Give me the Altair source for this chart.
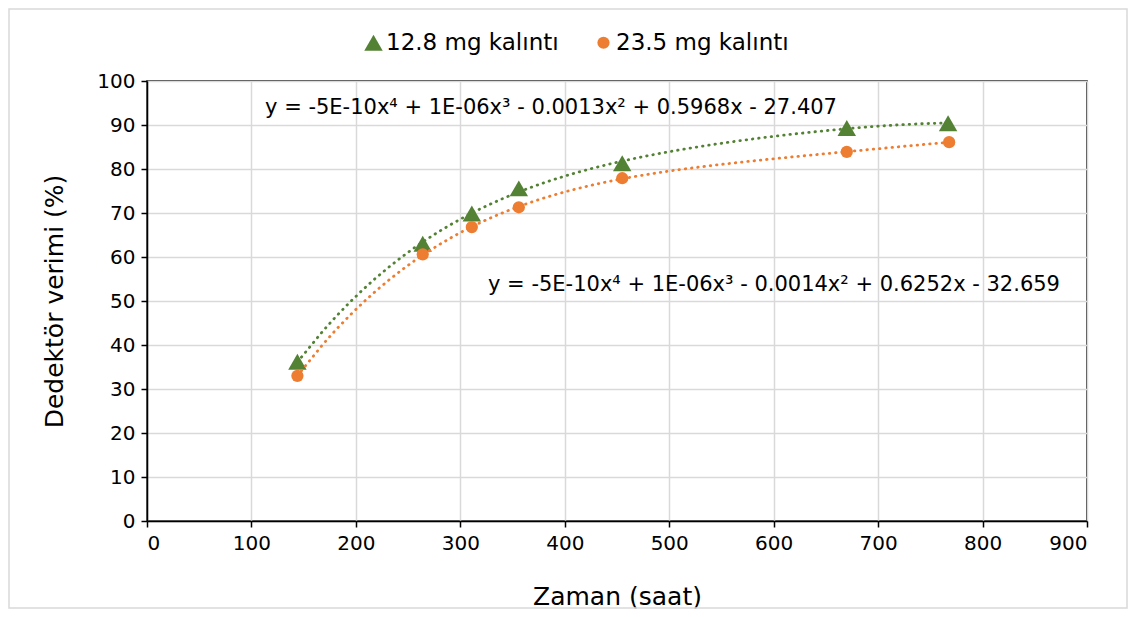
import altair as alt
import pandas as pd

# ---- data ----
series_names = ["12.8 mg kalıntı", "23.5 mg kalıntı"]
hours_128 = [144, 264, 311, 356, 455, 670, 767]
eff_128 = [36.2, 63.0, 69.9, 75.6, 81.3, 89.3, 90.4]
hours_235 = [144, 264, 311, 356, 455, 670, 768]
eff_235 = [33.0, 60.6, 66.8, 71.3, 77.9, 83.9, 86.1]
x_ticks = list(range(0, 901, 100))
y_ticks = list(range(0, 101, 10))
eq_128 = "y = -5E-10x\u2074 + 1E-06x\u00b3 - 0.0013x\u00b2 + 0.5968x  -  27.407"
eq_235 = "y = -5E-10x\u2074 + 1E-06x\u00b3 - 0.0014x\u00b2 + 0.6252x  -  32.659"

colors = ["#548235", "#ED7D31"]
shapes = ["triangle-up", "circle"]
marker_sizes = [340, 150]
FONT = "DejaVu Sans"

df = pd.DataFrame(
    {
        "Zaman": hours_128 + hours_235,
        "Verim": eff_128 + eff_235,
        "Seri": [series_names[0]] * len(hours_128) + [series_names[1]] * len(hours_235),
    }
)

PW, PH = 940, 440

x_enc = alt.X(
    "Zaman:Q",
    scale=alt.Scale(domain=[0, 900], nice=False),
    axis=alt.Axis(
        values=x_ticks,
        title="Zaman (saat)",
        titleFontSize=25,
        titlePadding=31,
        labelPadding=6,
    ),
)
y_enc = alt.Y(
    "Verim:Q",
    scale=alt.Scale(domain=[0, 100], nice=False),
    axis=alt.Axis(
        values=y_ticks,
        title="Dedektör verimi (%)",
        titleFontSize=25,
        titlePadding=29,
        labelPadding=6,
    ),
)
color_scale = alt.Scale(domain=series_names, range=colors)

base = alt.Chart(df)

trend = (
    base.transform_regression("Zaman", "Verim", groupby=["Seri"], method="poly", order=4)
    .mark_line(strokeWidth=2.8, strokeDash=[0.5, 5.8], strokeCap="round")
    .encode(
        x=x_enc,
        y=y_enc,
        color=alt.Color("Seri:N", scale=color_scale, legend=None),
        detail="Seri:N",
    )
)

points = base.mark_point(filled=True, opacity=1).encode(
    x=x_enc,
    y=y_enc,
    color=alt.Color(
        "Seri:N",
        scale=color_scale,
        legend=alt.Legend(
            title=None,
            orient="none",
            legendX=215,
            legendY=-50,
            direction="horizontal",
            symbolSize=190,
            labelFontSize=23,
            labelOffset=1,
            columnPadding=33,
            labelLimit=500,
            padding=0,
            symbolStrokeWidth=0,
            symbolOpacity=1,
        ),
    ),
    shape=alt.Shape("Seri:N", scale=alt.Scale(domain=series_names, range=shapes)),
    size=alt.Size("Seri:N", scale=alt.Scale(domain=series_names, range=marker_sizes), legend=None),
)

eq1 = alt.Chart(alt.Data(values=[{"t": eq_128}])).mark_text(
    align="left", baseline="middle", fontSize=21, color="black"
).encode(x=alt.datum(113), y=alt.datum(93.9), text="t:N")

eq2 = alt.Chart(alt.Data(values=[{"t": eq_235}])).mark_text(
    align="left", baseline="middle", fontSize=21, color="black"
).encode(x=alt.datum(326.5), y=alt.datum(53.6), text="t:N")

frame = alt.Chart(alt.Data(values=[{"f": 1}])).mark_rect(
    filled=False, stroke="#D9D9D9", strokeWidth=1.5
).encode(
    x=alt.value(-138), x2=alt.value(PW + 40), y=alt.value(-72), y2=alt.value(PH + 87)
)

chart = (
    alt.layer(frame, points, trend, eq1, eq2)
    .properties(
        width=PW,
        height=PH,
        autosize=alt.AutoSizeParams(type="none"),
        padding={"left": 139, "top": 73, "right": 41, "bottom": 88},
        background="white",
    )
    .configure(font=FONT)
    .configure_view(stroke="black", strokeWidth=1.5)
    .configure_axis(
        domainColor="black",
        domainWidth=1.5,
        tickColor="black",
        tickWidth=1.5,
        tickSize=6,
        labelFontSize=20,
        labelColor="black",
        titleColor="black",
        titleFontWeight="normal",
        gridColor="#D9D9D9",
        gridWidth=1.5,
        labelFont=FONT,
        titleFont=FONT,
    )
    .configure_legend(labelFont=FONT, labelColor="black")
)

chart.save("out.html", embed_options={"renderer": "svg", "actions": False})
